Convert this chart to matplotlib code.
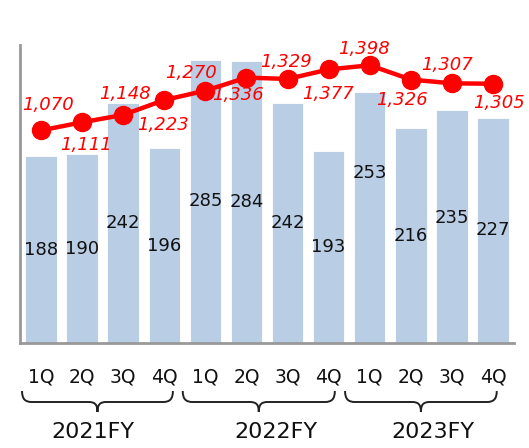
import numpy as np
import matplotlib.pyplot as plt
from matplotlib.path import Path
from matplotlib.patches import PathPatch
import matplotlib.transforms as mtransforms

# data
quarters = ['1Q', '2Q', '3Q', '4Q'] * 3
years = ['2021FY', '2022FY', '2023FY']
bar_vals = [188, 190, 242, 196, 285, 284, 242, 193, 253, 216, 235, 227]
line_vals = [1070, 1111, 1148, 1223, 1270, 1336, 1329, 1377, 1398, 1326, 1307, 1305]

# label placement (pixels) for the red line labels
line_lbl_off = [(7, 25), (4, -23), (2, 21), (-1, -25), (-14, 18), (-8, -17),
                (-2, 17), (-1, -25), (-6, 16), (-9, -20), (-5, 18), (6, -19)]
# extra shift (left-axis units) for some bar labels
bar_lbl_shift = [0, 0, 0, 0, 0, 0, 0, 0, 45, 0, 8, 0]
# brace spans and year label positions (x data units)
brace_spans = [(-0.46, 3.21), (3.45, 7.15), (7.40, 11.09)]
year_x = [1.27, 5.72, 9.54]

bar_color = '#B9CDE5'
red = '#FF0000'

fig = plt.figure(figsize=(5.29, 4.48), dpi=100)
ax1 = fig.add_axes([20 / 529, 105 / 448, 494 / 529, 298 / 448])
x = np.arange(len(bar_vals))

ax1.bar(x, bar_vals, width=0.765, color=bar_color, edgecolor='white', linewidth=0.6, zorder=2)
ax1.set_xlim(-0.51, 11.51)
ax1.set_ylim(0, 300)
for i, v in enumerate(bar_vals):
    ax1.text(i, v / 2 + bar_lbl_shift[i], str(v), ha='center', va='center',
             fontsize=13, color='#111111', zorder=3)

for s in ['top', 'right']:
    ax1.spines[s].set_visible(False)
for s in ['left', 'bottom']:
    ax1.spines[s].set_color('#999999')
    ax1.spines[s].set_linewidth(2)
ax1.set_xticks([])
ax1.set_yticks([])

ax2 = ax1.twinx()
ax2.set_ylim(0, 1500)
ax2.set_xlim(-0.51, 11.51)
ax2.axis('off')
ax2.plot(x, line_vals, color=red, linewidth=3.2, marker='o', markersize=13, zorder=4)
for i, v in enumerate(line_vals):
    dx, dy = line_lbl_off[i]
    ax2.annotate(f'{v:,}', (i, v), xytext=(dx, dy), textcoords='offset pixels',
                 ha='center', va='center', fontsize=13, style='italic', color=red)

# quarter and year labels below the axis
trans = mtransforms.blended_transform_factory(ax1.transData, ax1.transAxes)
for i, q in enumerate(quarters):
    ax1.text(i, -0.131, q, transform=trans, ha='center', va='baseline',
             fontsize=13.5, color='#111111', clip_on=False)
for xv, y in zip(year_x, years):
    ax1.text(xv, -0.319, y, transform=trans, ha='center', va='baseline',
             fontsize=16, color='#111111', clip_on=False)

# curly braces, drawn in display pixels
fig.canvas.draw()
top, mid, tip = 448 - 391, 448 - 402, 448 - 412
for a, b in brace_spans:
    x0 = ax1.transData.transform((a, 0))[0]
    x1 = ax1.transData.transform((b, 0))[0]
    xm = (x0 + x1) / 2
    verts = [(x0, top), (x0, mid + 3), (x0 + 3, mid), (x0 + 10, mid),
             (xm - 9, mid),
             (xm - 3, mid), (xm, mid - 2), (xm, tip),
             (xm, mid - 2), (xm + 3, mid), (xm + 9, mid),
             (x1 - 10, mid),
             (x1 - 3, mid), (x1, mid + 3), (x1, top)]
    codes = [Path.MOVETO, Path.CURVE4, Path.CURVE4, Path.CURVE4,
             Path.LINETO,
             Path.CURVE4, Path.CURVE4, Path.CURVE4,
             Path.CURVE4, Path.CURVE4, Path.CURVE4,
             Path.LINETO,
             Path.CURVE4, Path.CURVE4, Path.CURVE4]
    patch = PathPatch(Path(verts, codes), facecolor='none', edgecolor='#222222',
                      linewidth=1.4, transform=mtransforms.IdentityTransform())
    fig.add_artist(patch)

fig.savefig('out.png', dpi=100)
